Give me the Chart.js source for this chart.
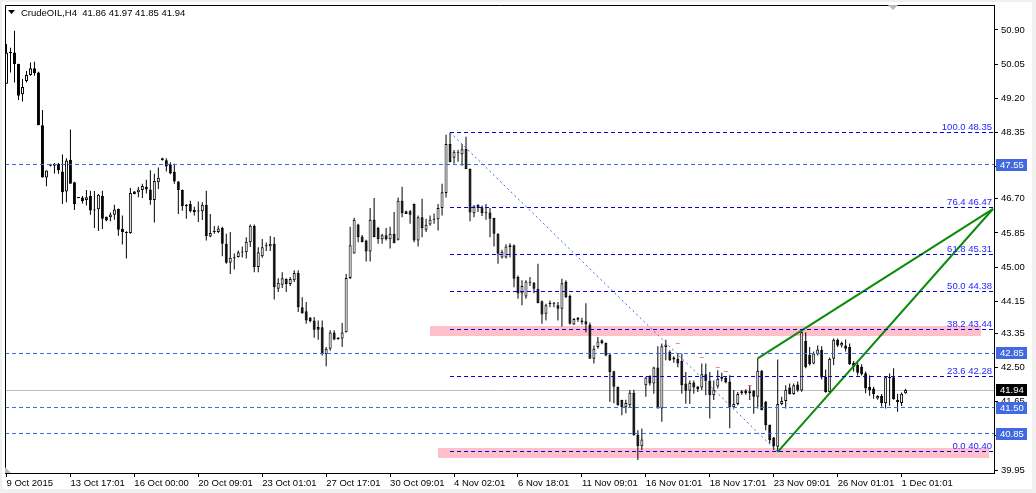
<!DOCTYPE html>
<html>
<head>
<meta charset="utf-8">
<script src="https://cdn.jsdelivr.net/npm/chart.js@4.4.1/dist/chart.umd.min.js"></script>
<style>
  html,body{margin:0;padding:0;background:#f0f0f0;}
  canvas{display:block;}
</style>
</head>
<body>
<canvas id="chart" width="1036" height="493"></canvas>
<script>
// -------- DATA (CrudeOIL, H4) ----------
const open = [
  49.56,50.35,50.34,50.05,49.30,49.63,49.78,49.95,49.84,48.53,
  47.23,47.56,47.52,47.57,47.38,46.88,47.67,47.11,46.73,46.73,
  46.67,46.77,46.42,46.44,46.77,46.25,46.24,46.30,46.45,45.95,
  45.88,45.85,46.88,46.86,46.92,47.00,46.93,46.67,47.11,47.66,
  47.66,47.55,47.37,47.13,46.92,46.55,46.57,46.42,46.38,46.39,
  46.55,45.76,45.87,45.87,45.97,45.58,45.11,45.24,45.25,45.36,
  45.37,45.62,46.03,45.00,45.27,45.52,45.52,45.58,44.46,44.56,
  44.70,44.58,44.67,44.85,44.00,43.90,43.74,43.67,43.51,43.50,
  42.83,42.97,43.37,43.21,43.22,43.38,44.73,45.34,46.06,45.76,
  45.66,45.39,46.18,45.97,45.69,45.79,45.69,45.83,45.68,46.65,
  46.39,46.39,46.57,45.66,46.24,45.93,46.06,46.18,46.19,46.47,
  46.84,48.06,47.72,47.85,47.81,47.94,47.44,46.34,46.55,46.49,
  46.36,46.36,46.22,45.83,45.24,45.24,45.54,45.54,44.75,44.34,
  44.27,44.61,44.61,44.46,44.15,43.84,44.08,44.10,44.05,43.96,
  44.63,44.28,43.57,43.69,43.67,43.65,43.57,42.72,43.01,43.18,
  43.11,42.82,42.41,42.02,41.69,41.51,41.56,41.87,40.82,40.54,
  42.06,42.29,42.10,42.50,41.48,43.01,42.89,42.70,42.72,42.66,
  42.10,41.92,42.13,42.03,42.00,42.33,42.18,41.81,42.03,42.27,
  42.24,42.15,41.51,41.59,41.86,41.93,41.86,41.92,41.77,42.42,
  41.65,41.07,40.76,40.53,41.59,41.67,42.00,41.84,42.08,41.93,
  43.16,42.82,42.60,42.83,42.94,42.27,41.89,42.72,43.19,43.05,
  43.05,43.01,42.62,42.56,42.52,42.36,42.02,41.98,41.73,41.79,
  41.61,42.26,42.26,41.70,41.62,41.86
];
const high = [
  50.55,50.46,50.88,50.06,49.68,49.88,50.09,50.11,49.86,48.91,
  47.40,47.57,47.59,47.59,47.80,47.71,48.42,47.12,46.74,46.77,
  46.92,46.90,46.89,46.82,46.90,46.26,46.36,46.55,46.46,46.28,
  45.89,46.97,46.89,46.99,47.07,47.17,47.41,47.32,47.48,47.72,
  47.71,47.61,47.57,47.14,46.93,46.57,46.65,46.50,46.63,46.61,
  46.90,46.32,46.02,46.03,46.00,45.83,45.87,45.34,45.41,45.51,
  45.74,46.06,46.06,45.49,45.70,45.61,45.77,45.75,44.72,44.87,
  44.72,44.75,44.92,44.92,44.25,44.13,43.76,43.76,43.67,43.67,
  43.01,43.43,43.43,43.26,43.61,44.83,46.00,46.23,46.08,45.80,
  45.68,46.47,46.72,46.00,45.83,45.97,46.00,46.37,46.73,47.00,
  46.40,46.42,46.58,46.28,46.70,46.20,46.28,46.33,46.57,47.07,
  48.29,48.35,47.91,47.92,48.06,48.24,47.45,46.53,46.56,46.53,
  46.57,46.47,46.23,45.84,45.43,45.57,45.59,45.56,44.79,44.67,
  44.67,44.75,44.63,45.08,44.17,44.09,44.17,44.13,44.13,44.71,
  44.67,44.32,43.73,43.76,43.74,44.10,43.62,43.05,43.26,43.20,
  43.12,42.84,42.42,42.03,41.70,41.70,41.94,41.95,40.94,40.98,
  42.27,42.31,42.52,43.03,43.10,43.19,42.93,42.78,42.86,42.85,
  42.39,42.18,42.18,42.04,42.60,42.60,42.39,42.18,42.43,42.37,
  42.27,42.31,41.94,41.89,41.94,41.96,42.06,41.94,42.73,42.44,
  41.67,41.08,40.77,42.70,41.77,42.06,42.10,42.10,42.15,43.44,
  43.38,43.01,42.90,43.05,43.03,42.45,42.75,43.22,43.22,43.15,
  43.20,43.10,42.66,42.62,42.58,42.40,42.30,42.02,41.81,41.84,
  42.27,42.35,42.48,41.85,41.88,41.97
];
const low = [
  49.56,49.84,49.59,49.16,49.12,49.59,49.76,49.76,48.53,47.23,
  47.01,47.50,47.33,47.32,46.57,46.61,47.07,46.42,46.71,46.58,
  46.53,46.30,45.97,45.90,45.95,46.14,46.14,46.18,45.78,45.56,
  45.21,45.83,46.81,46.74,46.72,46.83,46.55,46.11,46.94,47.65,
  47.38,47.31,47.07,46.32,46.40,46.20,46.36,46.28,46.12,46.17,
  45.66,45.74,45.83,45.85,45.27,45.08,44.83,44.94,45.24,45.24,
  45.21,45.50,44.87,44.87,45.23,45.40,45.40,44.19,44.38,44.48,
  44.38,44.53,44.63,43.88,43.84,43.59,43.62,43.24,43.19,42.80,
  42.53,42.92,43.18,43.19,43.01,43.37,44.70,45.34,45.62,45.62,
  45.14,45.14,45.74,45.58,45.58,45.66,45.46,45.59,45.66,46.24,
  46.32,46.08,45.62,45.51,45.74,45.87,46.03,46.08,45.91,46.28,
  46.73,47.61,47.57,47.62,47.52,47.44,46.14,46.24,46.37,46.27,
  46.18,45.74,45.51,45.08,45.21,45.21,45.24,44.50,44.21,44.05,
  44.21,44.53,44.35,44.10,43.59,43.67,44.00,44.00,43.67,43.52,
  44.23,43.57,43.56,43.64,43.57,43.38,42.72,42.60,42.97,43.08,
  42.78,41.65,41.61,41.55,41.31,41.36,41.52,40.80,40.20,40.45,
  41.77,42.05,41.85,41.48,41.15,42.68,42.66,42.62,42.51,41.85,
  41.60,41.59,41.85,41.89,41.94,41.81,41.23,41.69,41.98,42.15,
  42.11,40.99,41.48,41.56,41.82,41.82,41.69,41.35,41.48,41.44,
  40.94,40.61,40.45,40.40,41.56,41.48,41.83,41.82,41.90,41.90,
  42.48,42.55,42.58,42.80,42.20,41.87,41.85,42.56,43.01,43.00,
  42.90,42.56,42.40,42.30,42.30,41.86,41.80,41.72,41.70,41.53,
  41.48,41.55,41.70,41.40,41.54,41.85
];
const close = [
  50.33,50.32,50.05,49.26,49.48,49.78,49.95,49.82,48.53,47.23,
  47.40,47.52,47.57,47.41,46.86,47.65,47.07,46.56,46.72,46.64,
  46.74,46.41,46.41,46.80,46.20,46.16,46.31,46.43,45.93,45.87,
  45.85,46.84,46.82,46.93,47.02,46.93,46.67,47.14,47.22,47.71,
  47.50,47.33,47.13,46.92,46.52,46.52,46.39,46.37,46.39,46.55,
  45.77,45.85,45.88,45.96,45.58,45.11,45.23,45.22,45.37,45.38,
  45.63,46.03,45.00,45.37,45.49,45.53,45.58,44.50,44.61,44.72,
  44.58,44.70,44.85,44.00,43.85,43.67,43.66,43.44,43.44,42.83,
  42.97,43.37,43.20,43.22,43.37,44.73,45.54,46.18,45.74,45.62,
  45.39,46.18,45.74,45.69,45.79,45.70,45.83,45.59,46.65,46.34,
  46.32,46.30,45.66,46.24,45.97,46.05,46.18,46.19,46.47,46.86,
  48.06,47.61,47.87,47.83,47.93,47.44,46.36,46.53,46.47,46.34,
  46.34,46.20,45.83,45.33,45.38,45.51,45.50,44.71,44.34,44.53,
  44.64,44.62,44.46,44.10,43.82,44.05,44.10,44.09,43.96,44.60,
  44.25,43.59,43.71,43.74,43.63,43.57,42.72,42.97,43.15,43.11,
  42.80,42.39,42.02,41.56,41.51,41.62,41.87,40.82,40.54,40.71,
  42.25,42.10,42.50,41.48,43.03,43.07,42.68,42.75,42.60,42.06,
  41.92,42.12,42.00,41.96,42.33,42.17,41.81,41.95,42.22,42.22,
  42.13,41.51,41.59,41.84,41.91,41.86,41.91,41.77,42.42,41.44,
  41.07,40.69,40.55,41.59,41.67,41.95,41.84,42.06,41.93,43.38,
  42.51,42.58,42.85,42.95,42.25,41.89,42.72,43.19,43.05,43.11,
  42.97,42.58,42.52,42.37,42.33,41.98,41.94,41.84,41.79,41.61,
  42.26,42.24,41.71,41.64,41.85,41.94
];

// time axis labels, one every 16 bars
const xTickBars = [0,16,32,48,64,80,96,112,128,144,160,176,192,208,224];
const xLabels = ['9 Oct 2015','13 Oct 17:01','16 Oct 00:00','20 Oct 09:01','23 Oct 01:01',
  '27 Oct 17:01','30 Oct 09:01','4 Nov 02:01','6 Nov 18:01','11 Nov 09:01',
  '16 Nov 01:01','18 Nov 17:01','23 Nov 09:01','26 Nov 01:01','1 Dec 01:01'];
const yLabels = ['50.90','50.05','49.20','48.35','47.50','46.70','45.85','45.00',
  '44.15','43.35','42.50','41.65','40.80','39.95'];

// chart objects
const hLevels   = [47.55, 42.85, 41.50, 40.85];
const lastPrice = 41.94;
const fibRatios = ['100.0','76.4','61.8','50.0','38.2','23.6','0.0'];
const fibLevels = [48.35, 46.47, 45.31, 44.38, 43.44, 42.28, 40.40];
const fibFrom   = [111, 48.35];
const fibTo     = [193, 40.40];
const trendA    = [[188, 42.73], [246.9, 46.45]];
const trendB    = [[193, 40.40], [246.9, 46.45]];
const zones     = [[105.9, 243.9, 43.29, 43.54], [107.9, 245.9, 40.25, 40.50]];
const markBars  = [168, 174, 178, 180, 186];
const markPrice = [43.10, 42.75, 42.50, 42.40, 42.05];

// -------- CHART ----------
const xMin = -0.375, xMax = 247.125;
const FONT = {family:'"Liberation Sans", Arial, sans-serif', size:9.5};
const FONT_CSS = '9.5px "Liberation Sans", Arial, sans-serif';

const bars   = open.map((_, i) => i);
const isUp   = i => close[i] >= open[i];
const wicks  = bars.map(i => ({x:i, y:[low[i], high[i]]}));
const bodies = bars.map(i => ({x:i, y:[open[i], close[i]]}));

const hline = (p, from, color, dash, order) => ({
  type:'line', data:[{x:from, y:p}, {x:xMax, y:p}], flat:true,
  borderColor:color, borderWidth:1, borderDash:dash,
  pointRadius:0, order:order
});

const datasets = [
  {type:'bar', data:bodies, grouped:false, barThickness:3, minBarLength:1,
   backgroundColor: c => isUp(c.dataIndex) ? '#ffffff' : '#000000',
   borderColor:'#000', borderWidth:1, borderSkipped:false, inflateAmount:0, order:1},
  {type:'bar', data:wicks, grouped:false, barThickness:1,
   backgroundColor:'#000', borderWidth:0, inflateAmount:0, order:2},
  hline(lastPrice, xMin, '#c0c0c0', [], 3),
  ...hLevels.map(p => hline(p, xMin, '#4169e1', [4,3], 0)),
  ...fibLevels.map(p => hline(p, fibFrom[0], '#0000d8', [4,3], 0)),
  {type:'line', data:[{x:fibFrom[0], y:fibFrom[1]}, {x:fibTo[0], y:fibTo[1]}],
   borderColor:'#4169e1', borderWidth:1, borderDash:[2,3], pointRadius:0, order:0},
  ...[trendA, trendB].map(t => ({type:'line',
   data:t.map(p => ({x:p[0], y:p[1]})),
   borderColor:'#0b8a0b', borderWidth:2, pointRadius:0, order:0})),
  {type:'line', showLine:false, data:markBars.map((b, k) => ({x:b, y:markPrice[k]})),
   pointStyle:'line', pointRadius:2, pointBorderColor:'#f08080', pointBorderWidth:1, order:0}
];

// plugin: snap flat level lines onto a whole pixel row
const crisp = {
  id:'crisp',
  beforeDatasetDraw(chart, args){
    const ds = chart.data.datasets[args.index];
    if (!ds.flat) return;
    const py = chart.scales.y.getPixelForValue(ds.data[0].y);
    chart.ctx.save();
    chart.ctx.translate(0, Math.floor(py) + 0.5 - py);
  },
  afterDatasetDraw(chart, args){
    if (chart.data.datasets[args.index].flat) chart.ctx.restore();
  }
};

// plugin: frame, zones, labels
const overlay = {
  id:'overlay',
  beforeDraw(chart){
    const c = chart.ctx;
    c.save();
    c.fillStyle = '#f0f0f0'; c.fillRect(0, 0, 1036, 493);
    c.fillStyle = '#ffffff'; c.fillRect(2, 2, 1030, 487);
    c.restore();
  },
  beforeDatasetsDraw(chart){
    const {ctx:c, scales:{x, y}} = chart;
    c.save();
    c.fillStyle = '#ffc0cb';
    zones.forEach(z => {
      const x0 = Math.round(x.getPixelForValue(z[0])), x1 = Math.round(x.getPixelForValue(z[1]));
      const y0 = Math.round(y.getPixelForValue(z[3])), y1 = Math.round(y.getPixelForValue(z[2]));
      c.fillRect(x0, y0, x1 - x0, y1 - y0);
    });
    c.restore();
  },
  afterDraw(chart){
    const {ctx:c, chartArea:a, scales:{y}} = chart;
    c.save();
    // left/top border
    c.strokeStyle = '#000'; c.lineWidth = 1;
    c.beginPath();
    c.moveTo(a.left + 0.5, a.bottom); c.lineTo(a.left + 0.5, a.top + 0.5); c.lineTo(a.right, a.top + 0.5);
    c.stroke();

    c.font = FONT_CSS;
    // fibo labels
    c.fillStyle = '#2626ff'; c.textAlign = 'right'; c.textBaseline = 'bottom';
    fibLevels.forEach((p, k) => {
      c.fillText(fibRatios[k] + ' ' + p.toFixed(2), a.right - 2, Math.floor(y.getPixelForValue(p)));
    });

    // price boxes on the axis
    c.textAlign = 'left'; c.textBaseline = 'middle';
    const box = (p, bg) => {
      const py = Math.round(y.getPixelForValue(p));
      c.fillStyle = bg; c.fillRect(a.right + 2, py - 6, 31, 12);
      c.fillStyle = '#fff'; c.fillText(p.toFixed(2), a.right + 6, py + 0.5);
    };
    hLevels.forEach(p => box(p, '#4169e1'));
    box(lastPrice, '#000');

    // header
    c.fillStyle = '#000';
    c.beginPath(); c.moveTo(8, 10); c.lineTo(15, 10); c.lineTo(11.5, 14); c.closePath(); c.fill();
    c.textBaseline = 'middle';
    c.fillText('CrudeOIL,H4  41.86 41.97 41.85 41.94', 21, 13);

    // shift markers
    c.fillStyle = '#b8b8b8';
    c.beginPath(); c.moveTo(888, 5); c.lineTo(898, 5); c.lineTo(893, 10); c.closePath(); c.fill();
    c.beginPath(); c.moveTo(5, 467); c.lineTo(5, 473); c.lineTo(11, 473); c.closePath(); c.fill();
    c.restore();
  }
};

new Chart(document.getElementById('chart').getContext('2d'), {
  type:'bar',
  data:{datasets},
  options:{
    responsive:false,
    animation:false,
    events:[],
    layout:{padding:{left:4, top:4, right:0, bottom:0}},
    plugins:{legend:{display:false}, tooltip:{enabled:false}},
    scales:{
      x:{
        type:'linear', min:xMin, max:xMax, bounds:'data', offset:false,
        afterBuildTicks: s => { s.ticks = xTickBars.map(v => ({value:v})); },
        afterFit: s => { s.height = 20; s.paddingLeft = 0; s.paddingRight = 0; },
        ticks:{callback:(v, i) => xLabels[i], align:'start', autoSkip:false,
               maxRotation:0, padding:1, color:'#000', font:FONT},
        grid:{drawOnChartArea:false, offset:false, tickLength:4, color:'#000'},
        border:{display:true, color:'#000'}
      },
      y:{
        type:'linear', position:'right', min:39.8755, max:51.5208, bounds:'data',
        beginAtZero:false,
        afterBuildTicks: s => { s.ticks = yLabels.map(v => ({value:parseFloat(v)})); },
        afterFit: s => { s.width = 42; s.paddingTop = 0; s.paddingBottom = 0; },
        ticks:{callback:(v, i) => yLabels[i], padding:3, color:'#000', font:FONT},
        grid:{drawOnChartArea:false, tickLength:4, color:'#000'},
        border:{display:true, color:'#000'}
      }
    }
  },
  plugins:[crisp, overlay]
});
</script>
</body>
</html>
